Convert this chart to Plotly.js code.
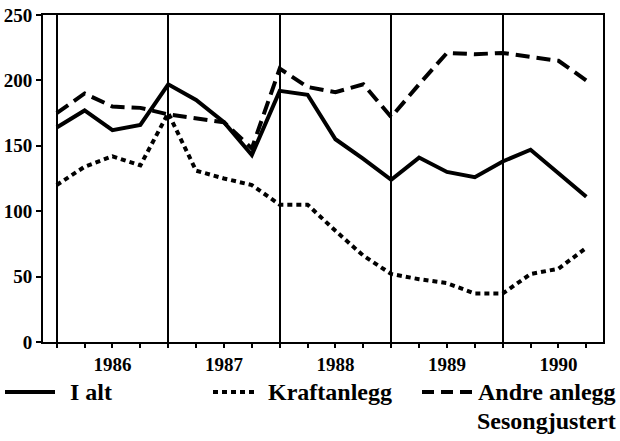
<!DOCTYPE html>
<html>
<head>
<meta charset="utf-8">
<script src="https://cdn.plot.ly/plotly-3.0.1.min.js"></script>
<style>
html,body{margin:0;padding:0;background:#fff;}
#chart{width:620px;height:441px;}
</style>
</head>
<body>
<div id="chart"></div>
<script>
// Quarterly points, 1986 Q1 .. 1990 Q4
const years = [1986, 1987, 1988, 1989, 1990];
const quarters = [1, 2, 3, 4];
const yearLabels = ["1986", "1987", "1988", "1989", "1990"];
const iAlt   = [164, 177, 162, 166, 197, 185, 168, 143, 192, 189, 155, 140, 124, 141, 130, 126, 138, 147, 129, 111];
const kraft  = [120, 134, 142, 135, 175, 131, 125, 120, 105, 105, 85, 66, 52, 48, 45, 37, 37, 52, 56, 72];
const andre  = [175, 190, 180, 179, 174, 171, 168, 148, 209, 195, 191, 197, 172, 197, 221, 220, 221, 218, 215, 200];
const seriesNames = ["I alt", "Kraftanlegg", "Andre anlegg"];
const noteText = "Sesongjustert";

const xq = [];
years.forEach(y => quarters.forEach(q => xq.push(y + (q - 1) / 4)));

const FONT = "Liberation Serif";
const LW = 4;

const traces = [
  {x: xq, y: iAlt, name: seriesNames[0], mode: "lines", line: {color: "#000", width: LW}},
  {x: xq, y: kraft, name: seriesNames[1], mode: "lines", line: {color: "#000", width: LW, dash: "5px,4px"}},
  {x: xq, y: andre, name: seriesNames[2], mode: "lines", line: {color: "#000", width: LW, dash: "14px,7px"}},
  // invisible trace to activate year-boundary axis
  {x: [years[0]], y: [null], xaxis: "x2", showlegend: false, hoverinfo: "skip", mode: "lines"}
];

// plot area in px: x 43..603, y 15..342
const PL = 43, PW = 560, PT = 15, PH = 327;
const px = v => (v - PL) / PW;
const py = v => (PT + PH - v) / PH;

const legY = 392;
const shapes = [
  {type: "line", xref: "paper", yref: "paper", x0: px(5), x1: px(55), y0: py(legY), y1: py(legY), line: {color: "#000", width: 4}},
  {type: "line", xref: "paper", yref: "paper", x0: px(213), x1: px(258), y0: py(legY), y1: py(legY), line: {color: "#000", width: 4, dash: "5px,4px"}},
  {type: "line", xref: "paper", yref: "paper", x0: px(422), x1: px(474), y0: py(legY), y1: py(legY), line: {color: "#000", width: 4, dash: "12px,7px"}}
];
const legFont = {family: FONT, size: 24, color: "#000", weight: "bold"};
const annotations = [
  {xref: "paper", yref: "paper", x: px(68), y: py(legY), xanchor: "left", yanchor: "middle", text: seriesNames[0], showarrow: false, font: legFont},
  {xref: "paper", yref: "paper", x: px(266), y: py(legY), xanchor: "left", yanchor: "middle", text: seriesNames[1], showarrow: false, font: legFont},
  {xref: "paper", yref: "paper", x: px(618), y: py(legY), xanchor: "right", yanchor: "middle", text: seriesNames[2], showarrow: false, font: legFont},
  {xref: "paper", yref: "paper", x: px(618), y: py(421), xanchor: "right", yanchor: "middle", text: noteText, showarrow: false, font: legFont}
];

const tickFont = {family: FONT, size: 19, color: "#000", weight: "bold"};
const xr = [1985.877, 1990.8996];

const layout = {
  width: 620, height: 441,
  font: {family: FONT, color: "#000"},
  margin: {l: PL, r: 620 - PL - PW, t: PT, b: 441 - PT - PH, pad: 0},
  paper_bgcolor: "#fff", plot_bgcolor: "#fff",
  showlegend: false,
  xaxis: {
    range: xr, tickmode: "array",
    tickvals: years.map(y => y + 0.5), ticktext: yearLabels,
    ticks: "outside", ticklen: 4, tickwidth: 2, tickcolor: "#000",
    minor: {tick0: 1986, dtick: 0.25, ticks: "outside", ticklen: 4, tickwidth: 2, tickcolor: "#000", showgrid: false},
    showgrid: false, zeroline: false,
    showline: true, linecolor: "#000", linewidth: 2, mirror: true,
    tickfont: tickFont, fixedrange: true
  },
  xaxis2: {
    overlaying: "x", matches: "x", anchor: "y", side: "bottom",
    range: xr, tickmode: "array", tickvals: years,
    showticklabels: false, ticks: "outside", ticklen: 4, tickwidth: 2, tickcolor: "#000",
    showgrid: true, gridcolor: "#000", gridwidth: 2,
    zeroline: false, showline: false
  },
  yaxis: {
    range: [0, 250], tickmode: "linear", tick0: 0, dtick: 50,
    ticks: "outside", ticklen: 5, tickwidth: 2, tickcolor: "#000",
    showgrid: false, zeroline: false,
    showline: true, linecolor: "#000", linewidth: 2, mirror: true,
    tickfont: tickFont, fixedrange: true
  },
  shapes: shapes,
  annotations: annotations
};

Plotly.newPlot("chart", traces, layout, {staticPlot: true, displayModeBar: false});
</script>
</body>
</html>
